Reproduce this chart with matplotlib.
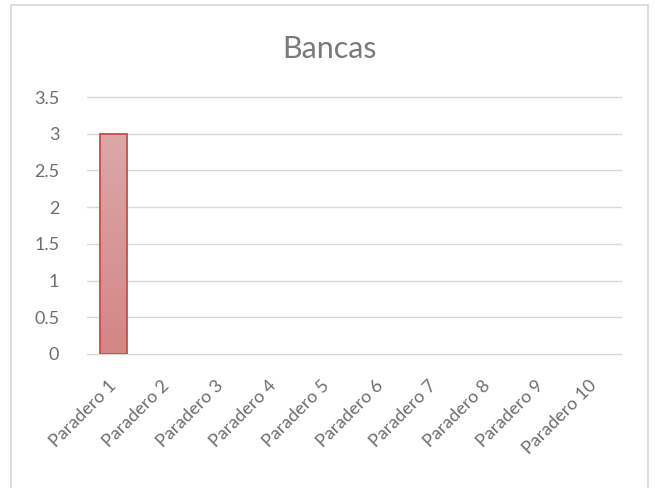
import matplotlib
matplotlib.use("Agg")
import matplotlib.pyplot as plt
import numpy as np
from matplotlib.patches import Rectangle
from matplotlib.colors import LinearSegmentedColormap

categories = ["Paradero 1", "Paradero 2", "Paradero 3", "Paradero 4", "Paradero 5",
              "Paradero 6", "Paradero 7", "Paradero 8", "Paradero 9", "Paradero 10"]
values = [3, 0, 0, 0, 0, 0, 0, 0, 0, 0]
yticks = [0, 0.5, 1, 1.5, 2, 2.5, 3, 3.5]
ytick_labels = ["0", "0.5", "1", "1.5", "2", "2.5", "3", "3.5"]

plt.rcParams['font.family'] = ['Lato', 'DejaVu Sans']

fig = plt.figure(figsize=(6.55, 4.88), dpi=100)
fig.patches.append(Rectangle((11/655, -0.1), (648-11)/655, 1.1 - 5/488,
                             transform=fig.transFigure, fill=False,
                             edgecolor="#D9D9D9", linewidth=1.2))
ax = fig.add_axes([87/655, 1-354/488, (621-87)/655, (354-97)/488])

x = np.arange(len(categories))
bars = ax.bar(x, values, width=0.5, color="none", edgecolor="#C0504D", linewidth=1.3, zorder=3)

grad = np.linspace(0, 1, 256).reshape(-1, 1)
cmap = LinearSegmentedColormap.from_list("g", ["#D38686", "#DBA8A8"])
for b in bars:
    h = b.get_height()
    if h <= 0:
        b.set_edgecolor("none")
        continue
    x0, w = b.get_x(), b.get_width()
    im = ax.imshow(grad, extent=[x0, x0 + w, 0, h], origin="lower", cmap=cmap,
                   aspect="auto", zorder=2)
    im.set_clip_path(b)

ax.set_xlim(-0.5, len(categories) - 0.5)
ax.set_ylim(0, 3.5)
ax.set_yticks(yticks)
ax.set_yticklabels(ytick_labels)
ax.yaxis.grid(True, color="#D9D9D9", linewidth=1)
for gl in ax.yaxis.get_gridlines():
    gl.set_clip_on(False)
ax.set_axisbelow(True)
for s in ax.spines.values():
    s.set_visible(False)
ax.tick_params(axis="both", length=0, colors="#6E6E6E", labelsize=13)
ax.tick_params(axis="y", pad=20)
ax.set_xticks(x)
ax.set_xticklabels(categories, rotation=45, ha="right", va="center", rotation_mode="anchor")
ax.tick_params(axis="x", pad=21)

fig.text(330/655, 1 - 58/488, "Bancas", ha="center", va="baseline", fontsize=22,
         color="#7A7A7A")

fig.savefig("out.png", dpi=100)
